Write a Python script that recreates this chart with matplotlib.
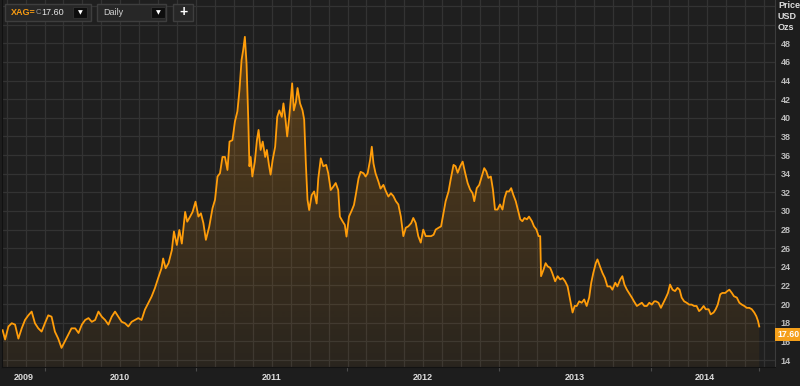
import numpy as np
import pandas as pd
import matplotlib
matplotlib.use("Agg")
import matplotlib.pyplot as plt
import matplotlib.dates as mdates
import matplotlib.transforms as mtransforms
from matplotlib.patches import Rectangle

plt.rcParams["font.family"] = ["Liberation Sans", "DejaVu Sans"]

# XAG= daily close (days counted from 2010-01-01)
days = [
    -101, -95, -87, -79, -71, -63, -55, -47, -39, -31, -23, -15, -7, 1, 9, 17,
    25, 33, 41, 49, 57, 65, 74, 82, 90, 98, 106, 114, 122, 130, 138, 146,
    154, 162, 170, 178, 186, 194, 202, 210, 218, 226, 234, 242, 250, 258, 266, 274,
    282, 286, 292, 299, 307, 312, 319, 325, 331, 339, 344, 351, 357, 364, 371, 377,
    383, 389, 397, 405, 411, 417, 423, 429, 435, 441, 446, 453, 459, 465, 470, 475,
    479, 483, 487, 491, 494, 497, 501, 507, 512, 516, 521, 526, 532, 536, 541, 545,
    550, 556, 561, 566, 572, 576, 581, 585, 590, 597, 601, 606, 610, 616, 622, 626,
    630, 634, 638, 644, 650, 656, 660, 666, 672, 679, 684, 690, 696, 702, 708, 712,
    719, 724, 728, 734, 741, 746, 751, 757, 762, 769, 774, 779, 785, 789, 793, 798,
    805, 810, 817, 823, 829, 835, 841, 847, 853, 859, 865, 871, 877, 884, 889, 895,
    901, 907, 913, 919, 925, 932, 938, 943, 950, 956, 962, 967, 974, 979, 986, 991,
    996, 1002, 1008, 1014, 1020, 1026, 1032, 1036, 1042, 1048, 1054, 1060, 1065, 1070, 1076, 1081,
    1086, 1092, 1098, 1104, 1109, 1114, 1120, 1125, 1130, 1136, 1141, 1147, 1152, 1157, 1163, 1168,
    1175, 1180, 1186, 1191, 1195, 1197, 1203, 1208, 1213, 1219, 1224, 1231, 1237, 1243, 1249, 1255,
    1261, 1267, 1273, 1278, 1283, 1289, 1295, 1301, 1307, 1313, 1318, 1323, 1329, 1333, 1339, 1345,
    1351, 1357, 1364, 1369, 1376, 1381, 1388, 1393, 1398, 1404, 1409, 1416, 1421, 1428, 1433, 1440,
    1446, 1452, 1458, 1464, 1470, 1474, 1480, 1486, 1492, 1498, 1503, 1508, 1514, 1520, 1526, 1531,
    1536, 1542, 1548, 1554, 1560, 1566, 1572, 1578, 1583, 1589, 1594, 1601, 1606, 1613, 1618, 1623,
    1629, 1634, 1641, 1646, 1651, 1657, 1662, 1669, 1675, 1681, 1687, 1693, 1699, 1705, 1711, 1716,
    1720, 1723,
]
prices = [
    17.2, 16.2, 17.6, 17.95, 17.8, 16.3, 17.4, 18.3, 18.8, 19.2, 17.95, 17.4, 17.05, 17.95, 18.8, 18.65,
    17.05, 16.3, 15.3, 16.0, 16.7, 17.4, 17.4, 16.9, 17.8, 18.3, 18.5, 18.1, 18.3, 19.2, 18.65, 18.3,
    17.8, 18.65, 19.2, 18.65, 18.1, 17.95, 17.6, 18.1, 18.3, 18.5, 18.3, 19.4, 20.1, 20.8, 21.7, 22.8,
    23.85, 24.9, 23.85, 24.4, 25.8, 27.8, 26.35, 27.96, 26.5, 29.9, 28.85, 29.4, 29.9, 31.0, 29.4, 29.75,
    28.7, 26.9, 28.3, 30.3, 31.2, 33.7, 34.05, 35.8, 35.8, 34.4, 37.45, 37.6, 39.6, 40.7, 43.0, 46.2,
    47.3, 48.7, 45.85, 40.1, 34.8, 35.8, 33.7, 35.3, 37.6, 38.7, 36.55, 37.45, 35.8, 36.55, 34.95, 33.9,
    35.5, 36.9, 40.1, 40.8, 40.1, 41.55, 39.8, 38.0, 40.1, 43.7, 40.8, 41.7, 43.2, 41.55, 40.8, 39.8,
    35.1, 31.2, 30.1, 31.7, 32.1, 30.8, 33.5, 35.65, 34.8, 34.95, 34.05, 32.25, 32.6, 33.0, 32.25, 29.4,
    28.85, 28.5, 27.25, 29.4, 30.1, 30.65, 31.9, 33.5, 34.2, 34.05, 33.7, 34.05, 35.5, 36.9, 35.1, 34.05,
    33.15, 32.4, 32.8, 32.1, 31.55, 31.9, 31.6, 31.05, 30.7, 29.4, 27.3, 28.2, 28.35, 28.7, 29.25, 28.7,
    27.3, 26.6, 28.0, 27.3, 27.3, 27.3, 27.45, 28.0, 28.2, 28.35, 29.8, 31.05, 32.1, 33.35, 34.95, 34.8,
    34.1, 34.8, 35.3, 34.1, 33.0, 32.3, 31.9, 31.05, 32.45, 32.8, 33.7, 34.6, 34.25, 33.55, 33.7, 32.3,
    30.15, 30.15, 30.7, 30.15, 31.4, 32.1, 32.1, 32.45, 31.75, 31.05, 30.15, 29.1, 28.9, 29.25, 29.1, 29.4,
    28.9, 28.35, 28.0, 27.3, 27.3, 23.0, 23.7, 24.4, 24.05, 23.9, 23.35, 22.45, 23.0, 22.65, 22.8, 22.45,
    21.9, 20.5, 19.1, 19.8, 19.8, 20.3, 20.15, 20.5, 19.8, 20.7, 22.3, 23.35, 24.4, 24.8, 24.05, 23.35,
    22.8, 21.9, 21.9, 21.55, 22.3, 21.9, 22.65, 23.0, 22.1, 21.55, 21.2, 20.7, 20.3, 19.8, 19.95, 20.15,
    19.8, 19.8, 20.15, 19.95, 20.3, 20.3, 20.15, 19.6, 20.15, 20.7, 21.2, 22.1, 21.55, 21.4, 21.75, 21.55,
    20.7, 20.3, 20.15, 19.95, 19.95, 19.8, 19.8, 19.25, 19.45, 19.8, 19.45, 19.45, 18.9, 19.1, 19.45, 19.95,
    21.05, 21.2, 21.2, 21.4, 21.55, 21.2, 20.85, 20.7, 20.15, 19.95, 19.8, 19.6, 19.6, 19.45, 19.1, 18.7,
    18.2, 17.6,
]
ticker = "XAG="
last_price = 17.60
interval = "Daily"
years = [2009, 2010, 2011, 2012, 2013, 2014]
y_ticks = list(range(14, 50, 2))

base = pd.Timestamp("2010-01-01")
dates = base + pd.to_timedelta(days, unit="D")
xn = mdates.date2num(dates)
x_lo = mdates.date2num(base + pd.Timedelta(days=-102.5))
x_hi = mdates.date2num(base + pd.Timedelta(days=1761))
y_lo, y_hi = 13.25, 52.65

bg = "#1f1f1f"
grid_c = "#333333"
orange = "#ff9d0a"

fig = plt.figure(figsize=(8, 3.86), dpi=100, facecolor="#1d1d1d")
ax = fig.add_axes([2 / 800, 19 / 386, 773 / 800, 367 / 386])
ax.set_facecolor(bg)
ax.set_xlim(x_lo, x_hi)
ax.set_ylim(y_lo, y_hi)

# grid: every 2 USD, every 1/8 year
for v in range(14, 54, 2):
    ax.axhline(v, color=grid_c, lw=0.9, zorder=0.5)
for k in range(-2, 39):
    ax.axvline(mdates.date2num(base + pd.Timedelta(days=k * 365.25 / 8)),
               color=grid_c, lw=0.9, zorder=0.5)

# gradient area under the line
poly = ax.fill_between(xn, prices, y_lo, color="none", lw=0)
grad = np.zeros((256, 1, 4))
grad[..., 0] = 1.0
grad[..., 1] = 0.6
grad[..., 2] = 0.05
grad[:, 0, 3] = np.linspace(0.27, 0.05, 256)
im = ax.imshow(grad, extent=[x_lo, x_hi, y_lo, 49], aspect="auto",
               origin="upper", zorder=1, interpolation="bilinear")
im.set_clip_path(poly.get_paths()[0], ax.transData)
ax.set_xlim(x_lo, x_hi)
ax.set_ylim(y_lo, y_hi)

ax.plot(xn, prices, color=orange, lw=1.3, zorder=3, solid_joinstyle="round")

# y axis on the right
ax.yaxis.tick_right()
ax.set_yticks(y_ticks)
ax.tick_params(axis="y", length=0, pad=4, labelsize=6.5, labelcolor="#bdbdbd")
for t in ax.get_yticklabels():
    t.set_fontweight("bold")

# x axis: tick marks at year starts and last date, labels centred on each year span
major = [mdates.date2num(pd.Timestamp(f"{y}-01-01")) for y in years[1:]] + [xn[-1]]
ax.set_xticks(major)
ax.set_xticklabels([""] * len(major))
mids = []
for y in years:
    a = max(mdates.date2num(pd.Timestamp(f"{y}-01-01")), xn[0])
    b = min(mdates.date2num(pd.Timestamp(f"{y + 1}-01-01")), xn[-1])
    mids.append((a + b) / 2)
ax.set_xticks(mids, minor=True)
ax.set_xticklabels([str(y) for y in years], minor=True)
ax.tick_params(axis="x", which="major", length=3, color="#4a4a4a", direction="out")
ax.tick_params(axis="x", which="minor", length=0, pad=4, labelsize=6.5, labelcolor="#dcdcdc")
for t in ax.get_xticklabels(minor=True):
    t.set_fontweight("bold")

ax.spines["top"].set_visible(False)
ax.spines["left"].set_color("#111111")
ax.spines["bottom"].set_color("#121212")
ax.spines["right"].set_color("#3c3c3c")

# last price marker
tr = mtransforms.blended_transform_factory(ax.transAxes, ax.transData)
ax.text(1.003, 16.75, f"{last_price:.2f}", transform=tr, ha="left", va="center",
        fontsize=6.3, fontweight="bold", color="white", clip_on=False,
        bbox=dict(boxstyle="square,pad=0.22", fc="#f5a01a", ec="none"))

# overlay in pixel coordinates for the header widgets and units label
ov = fig.add_axes([0, 0, 1, 1], facecolor="none")
ov.set_xlim(0, 800)
ov.set_ylim(386, 0)
ov.axis("off")

ov.text(778, 1, "Price\nUSD\nOzs", ha="left", va="top", fontsize=6.5,
        fontweight="bold", color="#dddddd", linespacing=1.25)

for x0, w in [(5, 86), (97, 69), (173, 20)]:
    ov.add_patch(Rectangle((x0, 4), w, 17, fc="#272727", ec="#3e3e3e", lw=1))
for x0 in [73, 151]:
    ov.add_patch(Rectangle((x0, 7), 14, 11, fc="#0d0d0d", ec="#2e2e2e", lw=0.8))
    ov.text(x0 + 7, 12.5, "\u25bc", ha="center", va="center", fontsize=4.5,
            color="white", family="DejaVu Sans")
ov.text(11, 12.8, ticker, ha="left", va="center", fontsize=6.5, fontweight="bold", color="#f59a12")
ov.text(36, 12.8, "C", ha="left", va="center", fontsize=5.5, color="#9a9a9a")
ov.text(41, 12.8, f"{last_price:.2f}", ha="left", va="center", fontsize=6.5, color="#e6e6e6")
ov.text(103, 12.8, interval, ha="left", va="center", fontsize=6.5, color="#cfcfcf")
ov.text(183, 12.3, "+", ha="center", va="center", fontsize=10, fontweight="bold", color="white")

fig.savefig("out.png", dpi=100, facecolor=fig.get_facecolor())
